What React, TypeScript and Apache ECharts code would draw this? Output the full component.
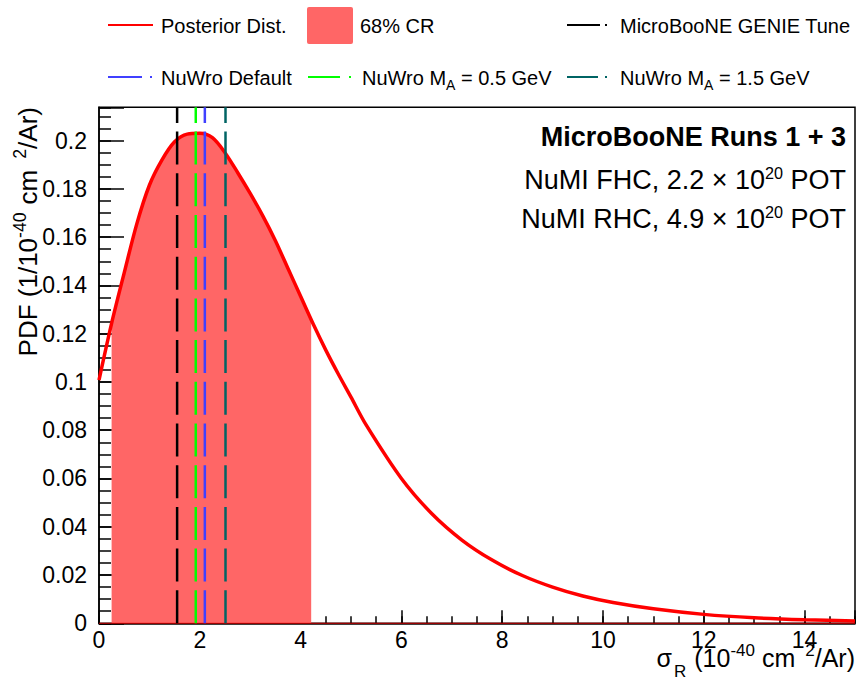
import React, { useEffect, useRef } from "react";
import * as echarts from "echarts";

// ---------- data ----------
const SIGMA = [0, 0.25, 0.5, 0.75, 1.0, 1.25, 1.5, 1.75, 2.0, 2.25, 2.5, 2.75, 3.0, 3.25, 3.5, 3.75, 4.0, 4.25, 4.5, 4.75, 5.0, 5.3, 6.0, 6.6, 7.2, 7.8, 8.4, 9.0, 9.6, 10.2, 11.0, 12.0, 13.0, 14.0, 15.0];
const PDF = [0.1008, 0.1243, 0.1452, 0.1655, 0.1815, 0.192, 0.1995, 0.2027, 0.203, 0.2012, 0.195, 0.1868, 0.1781, 0.1688, 0.1585, 0.147, 0.1355, 0.124, 0.1132, 0.1032, 0.0937, 0.0822, 0.06, 0.0455, 0.0345, 0.0262, 0.0198, 0.015, 0.0113, 0.0086, 0.006, 0.0037, 0.0023, 0.0015, 0.001];

const CR_SIGMA = [0.25, 0.5, 0.75, 1.0, 1.25, 1.5, 1.75, 2.0, 2.25, 2.5, 2.75, 3.0, 3.25, 3.5, 3.75, 4.0, 4.21];
const CR_PDF = [0.1243, 0.1452, 0.1655, 0.1815, 0.192, 0.1995, 0.2027, 0.203, 0.2012, 0.195, 0.1868, 0.1781, 0.1688, 0.1585, 0.147, 0.1355, 0.1258];

const MODEL_NAMES = ["MicroBooNE GENIE Tune", "NuWro M_A = 0.5 GeV", "NuWro Default", "NuWro M_A = 1.5 GeV"];
const MODEL_SIGMA = [1.55, 1.92, 2.1, 2.51];

const X_MIN = 0;
const X_MAX = 15;
const X_MAJOR = 2;
const X_MINOR = 0.5;
const Y_MIN = 0;
const Y_MAX = 0.2138;
const Y_MAJOR = 0.02;
const Y_MINOR = 0.005;

// ---------- styles ----------
const FONT = "'Liberation Sans', Arial, Helvetica, sans-serif";
const MODEL_COLORS = ["#000000", "#00ff00", "#4040ff", "#006464"];
const CURVE_COLOR = "#ff0000";
const FILL_COLOR = "#ff6666";
const DASH = [33, 8.7];
const SMOOTH = 0.3;

type Piece = { t: string; k?: "sup" | "sub"; gap?: number };

function latex(
  pieces: Piece[],
  o: {
    x: number; y: number; align: "left" | "right"; size: number; weight?: string; rotation?: number;
    supScale?: number; supDy?: number; subScale?: number; subDy?: number;
  }
) {
  const weight = o.weight || "normal";
  const supScale = o.supScale ?? 0.65;
  const subScale = o.subScale ?? 0.65;
  const supDy = o.supDy ?? -0.32;
  const subDy = o.subDy ?? 0.38;
  const L = Math.round(o.size * 1.2);
  const rich: Record<string, any> = {};
  let text = "";
  pieces.forEach((p, i) => {
    const name = "p" + i;
    const gap = p.gap || 0;
    let fs = o.size;
    let pad = [0, 0, 0, gap];
    if (p.k === "sup") {
      fs = o.size * supScale;
      pad = [0, 0, -2 * supDy * o.size, gap];
    } else if (p.k === "sub") {
      fs = o.size * subScale;
      pad = [2 * subDy * o.size, 0, 0, gap];
    }
    rich[name] = {
      fontSize: fs,
      fontFamily: FONT,
      fontWeight: weight,
      fill: "#000",
      lineHeight: L,
      verticalAlign: "middle",
      padding: pad,
    };
    text += "{" + name + "|" + p.t + "}";
  });
  return {
    type: "text",
    x: o.x,
    y: o.y,
    rotation: o.rotation || 0,
    style: {
      text,
      rich,
      fontSize: o.size,
      fontFamily: FONT,
      fontWeight: weight,
      fill: "#000",
      lineHeight: L,
      textAlign: o.align,
      align: o.align,
      textVerticalAlign: "middle",
      verticalAlign: "middle",
    },
  };
}

function legendText(text: string, x: number, y: number) {
  return {
    type: "text",
    x,
    y,
    style: { text, fontSize: 20, fontFamily: FONT, fill: "#000", textAlign: "left", textVerticalAlign: "middle", align: "left", verticalAlign: "middle" },
  };
}

function legendDashDot(x1: number, x2: number, dotX: number, y: number, color: string) {
  return [
    { type: "line", shape: { x1, y1: y, x2, y2: y }, style: { stroke: color, lineWidth: 2 } },
    { type: "line", shape: { x1: dotX - 1, y1: y, x2: dotX + 1, y2: y }, style: { stroke: color, lineWidth: 2 } },
  ];
}

function splitModelName(name: string): Piece[] {
  if (name.indexOf("M_A") >= 0) {
    const [a, b] = name.split("M_A");
    return [{ t: a + "M" }, { t: "A", k: "sub" }, { t: b }];
  }
  return [{ t: name }];
}

export default function App() {
  const ref = useRef<HTMLDivElement>(null);

  useEffect(() => {
    if (!ref.current) return;
    const chart = echarts.init(ref.current, undefined, { renderer: "svg" });

    const curve = SIGMA.map((s, i) => [s, PDF[i]]);
    const cr = CR_SIGMA.map((s, i) => [s, CR_PDF[i]]);

    const modelSeries = MODEL_SIGMA.map((s, i) => ({
      name: MODEL_NAMES[i],
      type: "line",
      data: [[s, Y_MIN], [s, Y_MAX]],
      symbol: "none",
      lineStyle: { color: MODEL_COLORS[i], width: 2.5, type: DASH },
      z: 6,
      silent: true,
    }));

    const legendEls: any[] = [
      { type: "line", shape: { x1: 108, y1: 25, x2: 153, y2: 25 }, style: { stroke: CURVE_COLOR, lineWidth: 2 } },
      legendText("Posterior Dist.", 161, 26),
      { type: "rect", shape: { x: 307, y: 7, width: 46, height: 37, r: 2 }, style: { fill: FILL_COLOR } },
      legendText("68% CR", 360, 26),
      ...legendDashDot(567, 600, 606, 25, MODEL_COLORS[0]),
      legendText(MODEL_NAMES[0], 620, 26),
      ...legendDashDot(108, 142, 151, 77, MODEL_COLORS[2]),
      legendText(MODEL_NAMES[2], 161, 77.5),
      ...legendDashDot(308, 340, 350, 77, MODEL_COLORS[1]),
      latex(splitModelName(MODEL_NAMES[1]), { x: 362, y: 77.5, align: "left", size: 20, subScale: 0.7, subDy: 0.37 }),
      ...legendDashDot(567, 598, 606, 77, MODEL_COLORS[3]),
      latex(splitModelName(MODEL_NAMES[3]), { x: 620, y: 77.5, align: "left", size: 20, subScale: 0.7, subDy: 0.37 }),
    ];

    const textEls: any[] = [
      latex([{ t: "MicroBooNE Runs 1 + 3" }], { x: 846, y: 137, align: "right", size: 27, weight: "bold" }),
      latex([{ t: "NuMI FHC, 2.2 × 10" }, { t: "20", k: "sup" }, { t: " POT" }], { x: 846, y: 180, align: "right", size: 27, supScale: 0.6, supDy: -0.26 }),
      latex([{ t: "NuMI RHC, 4.9 × 10" }, { t: "20", k: "sup" }, { t: " POT" }], { x: 846, y: 219, align: "right", size: 27, supScale: 0.6, supDy: -0.26 }),
      latex(
        [{ t: "σ" }, { t: "R", k: "sub", gap: 2 }, { t: "(10", gap: 8 }, { t: "-40", k: "sup" }, { t: "cm", gap: 7 }, { t: "2", k: "sup", gap: 10 }, { t: "/Ar)" }],
        { x: 855, y: 658, align: "right", size: 25, supScale: 0.68, supDy: -0.3, subScale: 0.68, subDy: 0.52 }
      ),
      latex(
        [{ t: "PDF (1/10" }, { t: "-40", k: "sup" }, { t: "cm", gap: 8 }, { t: "2", k: "sup", gap: 11 }, { t: "/Ar)" }],
        { x: 28, y: 107, align: "right", size: 26, rotation: Math.PI / 2, supScale: 0.68, supDy: -0.3 }
      ),
    ];

    const isMultiple = (v: number, step: number) => Math.abs(v / step - Math.round(v / step)) < 1e-6;

    chart.setOption({
      animation: false,
      grid: {
        left: 99,
        top: 107.3,
        right: 1.5,
        bottom: 57.7,
        show: true,
        borderColor: "#000",
        borderWidth: 1.5,
        backgroundColor: "transparent",
      },
      xAxis: [
        {
          type: "value",
          min: X_MIN,
          max: X_MAX,
          interval: X_MAJOR,
          position: "bottom",
          axisLine: { show: true, onZero: false, lineStyle: { color: "#000", width: 1.5 } },
          axisTick: { show: true, inside: true, length: 13, lineStyle: { color: "#000", width: 1.5 } },
          axisLabel: {
            show: true,
            margin: 5,
            fontSize: 23,
            fontFamily: FONT,
            color: "#000",
            formatter: (v: number) => (isMultiple(v, X_MAJOR) ? String(v) : ""),
          },
          splitLine: { show: false },
        },
        {
          type: "value",
          min: X_MIN,
          max: X_MAX,
          interval: X_MINOR,
          position: "bottom",
          axisLine: { show: false },
          axisTick: { show: true, inside: true, length: 7, lineStyle: { color: "#000", width: 1.5 } },
          axisLabel: { show: false },
          splitLine: { show: false },
        },
      ],
      yAxis: [
        {
          type: "value",
          min: Y_MIN,
          max: Y_MAX,
          interval: Y_MAJOR,
          position: "left",
          axisLine: { show: true, onZero: false, lineStyle: { color: "#000", width: 1.5 } },
          axisTick: { show: true, inside: true, length: 25, lineStyle: { color: "#000", width: 1.5 } },
          axisLabel: {
            show: true,
            margin: 12,
            fontSize: 23,
            fontFamily: FONT,
            color: "#000",
            formatter: (v: number) => (isMultiple(v, Y_MAJOR) ? String(Math.round(v * 100) / 100) : ""),
          },
          splitLine: { show: false },
        },
        {
          type: "value",
          min: Y_MIN,
          max: Y_MAX,
          interval: Y_MINOR,
          position: "left",
          axisLine: { show: false },
          axisTick: { show: true, inside: true, length: 12, lineStyle: { color: "#000", width: 1.5 } },
          axisLabel: { show: false },
          splitLine: { show: false },
        },
      ],
      series: [
        {
          name: "68% CR",
          type: "line",
          data: cr,
          smooth: SMOOTH,
          symbol: "none",
          lineStyle: { width: 0, opacity: 0 },
          areaStyle: { color: FILL_COLOR, opacity: 1 },
          z: 2,
          silent: true,
        },
        {
          name: "zero",
          type: "line",
          data: [[X_MIN, 0], [X_MAX, 0]],
          symbol: "none",
          lineStyle: { color: CURVE_COLOR, width: 1 },
          z: 3,
          silent: true,
        },
        {
          name: "Posterior Dist.",
          type: "line",
          data: curve,
          smooth: SMOOTH,
          symbol: "none",
          lineStyle: { color: CURVE_COLOR, width: 3.5 },
          z: 4,
          silent: true,
        },
        ...modelSeries,
      ],
      graphic: [...legendEls, ...textEls],
    });

    return () => chart.dispose();
  }, []);

  return <div ref={ref} style={{ position: "absolute", left: 0, top: 0, width: 858, height: 681 }} />;
}
